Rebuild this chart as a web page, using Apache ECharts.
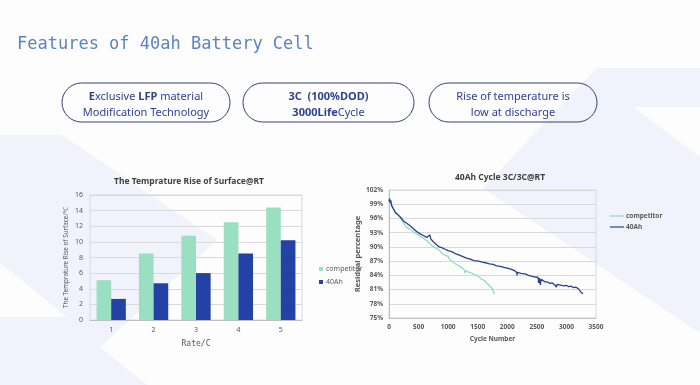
<!DOCTYPE html>
<html><head><meta charset="utf-8">
<script src="https://cdn.jsdelivr.net/npm/echarts@6/dist/echarts.min.js"></script>
<style>html,body{margin:0;padding:0;background:#fdfdfe}#c{width:700px;height:385px}</style>
</head><body><div id="c"></div>
<script>
// ---- Data ----
const rateCategories = ['1', '2', '3', '4', '5'];
const competitorTemp = [5.1, 8.5, 10.8, 12.5, 14.4];
const ahTemp = [2.7, 4.7, 6.0, 8.5, 10.2];

const competitorCycle = [
  [0,99.8],[15,100.1],[30,99.2],[50,98.6],[75,98.1],[100,97.5],[130,97.2],[160,96.6],[190,96.1],[220,95.5],
  [250,95.0],[280,94.4],[300,94.6],[320,93.9],[350,94.0],[380,93.5],[410,93.6],[440,92.9],[470,92.7],[500,92.5],
  [530,92.6],[560,92.0],[590,91.9],[620,91.5],[650,91.3],[680,90.8],[710,90.6],[740,90.1],[770,90.2],[800,89.7],
  [830,89.5],[860,89.2],[890,88.7],[920,88.5],[950,88.2],[980,87.9],[1000,88.0],[1030,87.3],[1060,87.0],[1090,86.7],
  [1120,86.6],[1150,86.2],[1180,86.0],[1210,85.8],[1240,85.4],[1270,85.2],[1290,84.5],[1300,85.0],[1340,84.7],[1380,84.6],
  [1420,84.3],[1460,84.1],[1500,83.9],[1530,83.5],[1560,83.2],[1590,82.8],[1620,82.9],[1650,82.4],[1680,82.3],[1700,81.8],
  [1720,81.9],[1740,81.3],[1760,80.9],[1775,80.3],[1785,80.0]
];
const ahCycle = [
  [0,99.6],[10,100.2],[20,99.3],[30,99.8],[45,98.7],[60,98.9],[75,98.0],[90,97.8],[110,97.2],[130,97.4],
  [150,96.8],[175,96.5],[200,96.2],[225,95.9],[250,95.4],[275,95.6],[300,95.0],[325,94.8],[350,94.5],[375,94.7],
  [400,94.0],[430,93.6],[460,93.3],[490,93.0],[520,92.8],[550,92.6],[580,92.4],[610,92.3],[640,92.0],[670,92.2],
  [690,92.5],[710,91.6],[740,91.2],[770,90.8],[800,90.4],[850,90.0],[900,89.8],[950,89.5],[1000,89.2],[1060,89.0],
  [1120,88.6],[1180,88.3],[1240,88.0],[1300,87.7],[1370,87.4],[1440,87.1],[1510,87.0],[1580,86.8],[1650,86.6],[1700,86.4],
  [1760,86.3],[1820,86.0],[1880,85.9],[1940,85.7],[2000,85.5],[2060,85.3],[2120,85.0],[2160,84.6],[2165,84.0],[2170,84.6],
  [2230,84.4],[2300,84.3],[2360,84.0],[2420,83.8],[2480,83.6],[2520,83.6],[2530,82.4],[2540,83.4],[2560,82.0],[2570,83.2],
  [2600,83.0],[2640,82.6],[2680,82.6],[2720,82.3],[2760,82.4],[2800,82.0],[2830,81.5],[2840,82.1],[2880,82.0],[2920,81.9],
  [2960,81.8],[3000,81.9],[3040,81.6],[3080,81.7],[3120,81.4],[3160,81.5],[3200,81.2],[3230,81.0],[3250,80.4],[3260,80.8],
  [3280,80.1]
];

const seriesNames = ['competitor', '40Ah'];
const slideTitle = 'Features of 40ah Battery Cell';
const barTitle = 'The Temprature Rise of Surface@RT';
const lineTitle = '40Ah Cycle 3C/3C@RT';

// ---- Styling ----
const mint = '#9bdfc2';
const navy = '#2441a6';
const lineMint = '#92dcc0';
const lineNavy = '#2b3f92';
const gridCol = '#d9d9d9';
const txt = '#595959';
const boxCol = '#34416f';
const boxTxt = '#2f4192';
const bg = '#fdfdfe';
const shape = '#f0f3fb';

const chart = echarts.init(document.getElementById('c'));

function box(x, w, text, rich) {
  return {
    type: 'group',
    children: [
      { type: 'rect', shape: { x: x, y: 83, width: w, height: 39, r: 19.5 },
        style: { fill: 'rgba(255,255,255,0)', stroke: boxCol, lineWidth: 1 } },
      { type: 'text', x: x + w / 2, y: 105,
        style: { text: text, align: 'center', verticalAlign: 'middle', fill: boxTxt,
          font: '11px "Noto Sans"', lineHeight: 15.5, rich: rich } }
    ]
  };
}
const boldRich = { b: { fontWeight: 'bold', fontSize: 11, fontFamily: 'Noto Sans', lineHeight: 15.5, fill: boxTxt, color: boxTxt } };

chart.setOption({
  backgroundColor: bg,
  animation: false,
  graphic: [
    { type: 'polygon', z: -100, shape: { points: [[0,135],[62,135],[217,240],[100,347],[147,385],[0,385]] }, style: { fill: shape } },
    { type: 'polygon', z: -99, shape: { points: [[0,263],[67,317],[0,317]] }, style: { fill: bg } },
    { type: 'polygon', z: -100, shape: { points: [[597,68],[700,68],[700,333],[483,188]] }, style: { fill: shape } },
    { type: 'polygon', z: -99, shape: { points: [[633,107],[700,107],[700,157]] }, style: { fill: bg } },
    { type: 'text', x: 17, y: 45, style: { text: slideTitle, fill: '#5a84bf', font: '17px "DejaVu Sans Mono"', verticalAlign: 'middle' } },
    box(62, 168, '{b|E}xclusive {b|LFP} material\nModification Technology', boldRich),
    box(243, 171, '{b|3C  (100%DOD)}\n{b|3000Life}Cycle', boldRich),
    box(429, 168, 'Rise of temperature is\nlow at discharge', {})
  ],
  title: [
    { text: barTitle, left: 184, top: 172, textAlign: 'center',
      textStyle: { fontSize: 8.5, fontWeight: 'bold', color: '#404040', fontFamily: 'Noto Sans' } },
    { text: lineTitle, left: 495, top: 168, textAlign: 'center',
      textStyle: { fontSize: 8.5, fontWeight: 'bold', color: '#404040', fontFamily: 'Noto Sans' } }
  ],
  legend: [
    { data: seriesNames, orient: 'vertical', left: 314, top: 260, itemWidth: 4, itemHeight: 4, itemGap: 5, icon: 'rect',
      textStyle: { fontSize: 7, color: txt, fontFamily: 'Noto Sans', lineHeight: 8, padding: [0, 0, 0, -2] },
      selectedMode: false },
    { data: [seriesNames[0] + ' ', seriesNames[1] + ' '], orient: 'vertical', left: 605, top: 207, itemWidth: 14, itemHeight: 1.2, itemGap: 3, icon: 'rect',
      formatter: function (n) { return n.trim(); },
      textStyle: { fontSize: 6.5, fontWeight: 'bold', color: txt, fontFamily: 'Noto Sans', lineHeight: 8, padding: [0, 0, 0, -3] },
      selectedMode: false }
  ],
  grid: [
    { left: 90, right: 398, top: 195, bottom: 65, show: true, borderColor: gridCol, borderWidth: 1, backgroundColor: 'transparent' },
    { left: 389, right: 104, top: 190, bottom: 67, show: true, borderColor: gridCol, borderWidth: 1, backgroundColor: 'transparent' }
  ],
  xAxis: [
    { gridIndex: 0, type: 'category', data: rateCategories,
      name: 'Rate/C', nameLocation: 'middle', nameGap: 20,
      nameTextStyle: { fontSize: 8, color: txt, fontFamily: 'DejaVu Sans Mono' },
      axisLine: { lineStyle: { color: '#bfbfbf' } }, axisTick: { show: false },
      axisLabel: { fontSize: 7, color: txt, margin: 6, fontFamily: 'Noto Sans' } },
    { gridIndex: 1, type: 'value', min: 0, max: 3500, interval: 500,
      name: 'Cycle Number', nameLocation: 'middle', nameGap: 18,
      nameTextStyle: { fontSize: 6.5, fontWeight: 'bold', color: txt, fontFamily: 'Noto Sans' },
      axisLine: { show: true, lineStyle: { color: '#bfbfbf' } }, axisTick: { show: false }, splitLine: { show: false },
      axisLabel: { fontSize: 6.5, color: txt, margin: 6, fontFamily: 'Noto Sans', fontWeight: 'bold',
        formatter: function (v) { return String(v); } } }
  ],
  yAxis: [
    { gridIndex: 0, type: 'value', min: 0, max: 16, interval: 2,
      name: 'The Temprature Rise of Surface/℃', nameLocation: 'middle', nameGap: 21,
      nameTextStyle: { fontSize: 6.3, color: txt, fontFamily: 'Noto Sans' },
      axisLine: { show: false }, axisTick: { show: false },
      splitLine: { lineStyle: { color: gridCol } },
      axisLabel: { fontSize: 7, color: txt, margin: 7, fontFamily: 'Noto Sans' } },
    { gridIndex: 1, type: 'value', min: 75, max: 102, interval: 3,
      name: 'Residual percentage', nameLocation: 'middle', nameGap: 25,
      nameTextStyle: { fontSize: 7.5, fontWeight: 'bold', color: txt, fontFamily: 'Noto Sans' },
      axisLine: { show: true, lineStyle: { color: '#bfbfbf' } }, axisTick: { show: false },
      splitLine: { lineStyle: { color: gridCol } },
      axisLabel: { fontSize: 6.5, color: txt, margin: 6, fontFamily: 'Noto Sans', fontWeight: 'bold', formatter: '{value}%' } }
  ],
  series: [
    { name: seriesNames[0], type: 'bar', xAxisIndex: 0, yAxisIndex: 0, data: competitorTemp,
      itemStyle: { color: mint }, barGap: '0%', barCategoryGap: '31%' },
    { name: seriesNames[1], type: 'bar', xAxisIndex: 0, yAxisIndex: 0, data: ahTemp,
      itemStyle: { color: navy }, barGap: '0%', barCategoryGap: '31%' },
    { name: seriesNames[0] + ' ', type: 'line', xAxisIndex: 1, yAxisIndex: 1, data: competitorCycle,
      showSymbol: false, symbol: 'none', lineStyle: { color: lineMint, width: 1.3 }, itemStyle: { color: lineMint } },
    { name: seriesNames[1] + ' ', type: 'line', xAxisIndex: 1, yAxisIndex: 1, data: ahCycle,
      showSymbol: false, symbol: 'none', lineStyle: { color: lineNavy, width: 1.3 }, itemStyle: { color: lineNavy } }
  ]
});
</script>
</body></html>
